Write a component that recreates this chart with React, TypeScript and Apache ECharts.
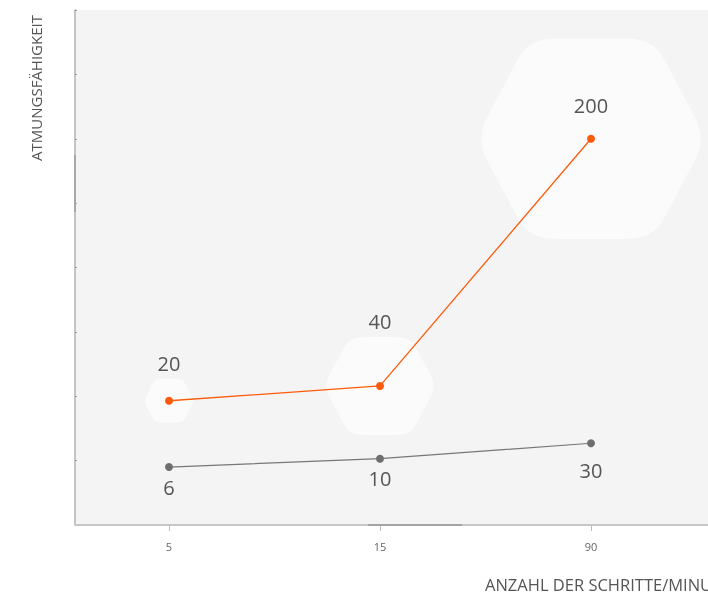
import React, { useEffect, useRef } from "react";
import * as echarts from "echarts";

const categories = ["5", "15", "90"];
const orangeValues = [1.93, 2.16, 6.0];
const orangeLabels = [20, 40, 200];
const grayValues = [0.9, 1.03, 1.27];
const grayLabels = [6, 10, 30];

const hexWidths = [48, 107, 219];
const orangeLabelDy = [-37, -64, -33];
const grayLabelDy = [20, 20, 27];

const HEX =
  "path://M3,37 L17,10 Q22,0 34,0 L66,0 Q78,0 83,10 L97,37 Q101,46 97,55 L83,82 Q78,92 66,92 L34,92 Q22,92 17,82 L3,55 Q-1,46 3,37 Z";

export default function App() {
  const ref = useRef<HTMLDivElement>(null);
  useEffect(() => {
    if (!ref.current) return;
    const chart = echarts.init(ref.current, null, { renderer: "svg" });
    const font = "'Open Sans', 'Noto Sans', sans-serif";
    chart.setOption({
      animation: false,
      grid: { left: 63.5, right: 11.5, top: 10, bottom: 68, containLabel: false },
      xAxis: {
        type: "category",
        data: categories,
        boundaryGap: true,
        axisLine: { show: false },
        axisTick: {
          show: true,
          alignWithLabel: true,
          length: 6,
          lineStyle: { color: "#bdbdbd", width: 1 },
        },
        axisLabel: { color: "#666", fontSize: 11, margin: 16, fontFamily: font },
        splitLine: { show: false },
      },
      yAxis: {
        type: "value",
        min: 0,
        max: 8,
        interval: 1,
        offset: -11.5,
        axisLine: { show: true, lineStyle: { color: "#c4c4c4", width: 2 } },
        axisTick: { show: true, inside: true, length: 2, lineStyle: { color: "#9a9a9a" } },
        axisLabel: { show: false },
        splitLine: { show: false },
      },
      graphic: [
        {
          type: "rect",
          z: -10,
          silent: true,
          shape: { x: 75, y: 10, width: 633, height: 515 },
          style: { fill: "#f4f4f4" },
        },
        {
          type: "line",
          z: 5,
          silent: true,
          shape: { x1: 75, y1: 525, x2: 708, y2: 525 },
          style: { stroke: "#c6c6c6", lineWidth: 2 },
        },
        {
          type: "line",
          z: 6,
          silent: true,
          shape: { x1: 368, y1: 525, x2: 462, y2: 525 },
          style: { stroke: "#a4a4a4", lineWidth: 2 },
        },
        {
          type: "line",
          z: 6,
          silent: true,
          shape: { x1: 75, y1: 155, x2: 75, y2: 212 },
          style: { stroke: "#a8a8a8", lineWidth: 2 },
        },
        {
          type: "text",
          x: 36,
          y: 88,
          rotation: Math.PI / 2,
          style: {
            text: "ATMUNGSFÄHIGKEIT",
            fill: "#555",
            fontSize: 15,
            fontFamily: font,
            align: "center",
            verticalAlign: "middle",
          },
        },
        {
          type: "text",
          x: 485,
          y: 584,
          style: {
            text: "ANZAHL DER SCHRITTE/MINUTE",
            fill: "#555",
            fontSize: 16.5,
            fontFamily: font,
            align: "left",
            verticalAlign: "middle",
          },
        },
      ],
      series: [
        {
          type: "scatter",
          z: 1,
          silent: true,
          symbol: HEX,
          symbolKeepAspect: false,
          symbolSize: (_v: any, p: any) => [hexWidths[p.dataIndex], hexWidths[p.dataIndex] * 0.915],
          itemStyle: { color: "rgba(255,255,255,0.75)" },
          data: orangeValues,
        },
        {
          type: "line",
          z: 3,
          symbol: "circle",
          symbolSize: 8,
          showAllSymbol: true,
          lineStyle: { color: "#ff5a0a", width: 1.3 },
          itemStyle: { color: "#ff5a0a" },
          data: orangeValues.map((v, i) => ({
            value: v,
            label: { offset: [0, orangeLabelDy[i]] },
          })),
          label: {
            show: true,
            position: "inside",
            color: "#555",
            fontSize: 20,
            fontFamily: font,
            formatter: (p: any) => String(orangeLabels[p.dataIndex]),
          },
        },
        {
          type: "line",
          z: 3,
          symbol: "circle",
          symbolSize: 8,
          showAllSymbol: true,
          lineStyle: { color: "#777", width: 1.2 },
          itemStyle: { color: "#6e6e6e" },
          data: grayValues.map((v, i) => ({
            value: v,
            label: { offset: [0, grayLabelDy[i]] },
          })),
          label: {
            show: true,
            position: "inside",
            color: "#555",
            fontSize: 20,
            fontFamily: font,
            formatter: (p: any) => String(grayLabels[p.dataIndex]),
          },
        },
      ],
    });
    return () => chart.dispose();
  }, []);
  return (
    <div
      ref={ref}
      style={{ position: "fixed", left: 0, top: 0, width: 708, height: 593 }}
    />
  );
}
